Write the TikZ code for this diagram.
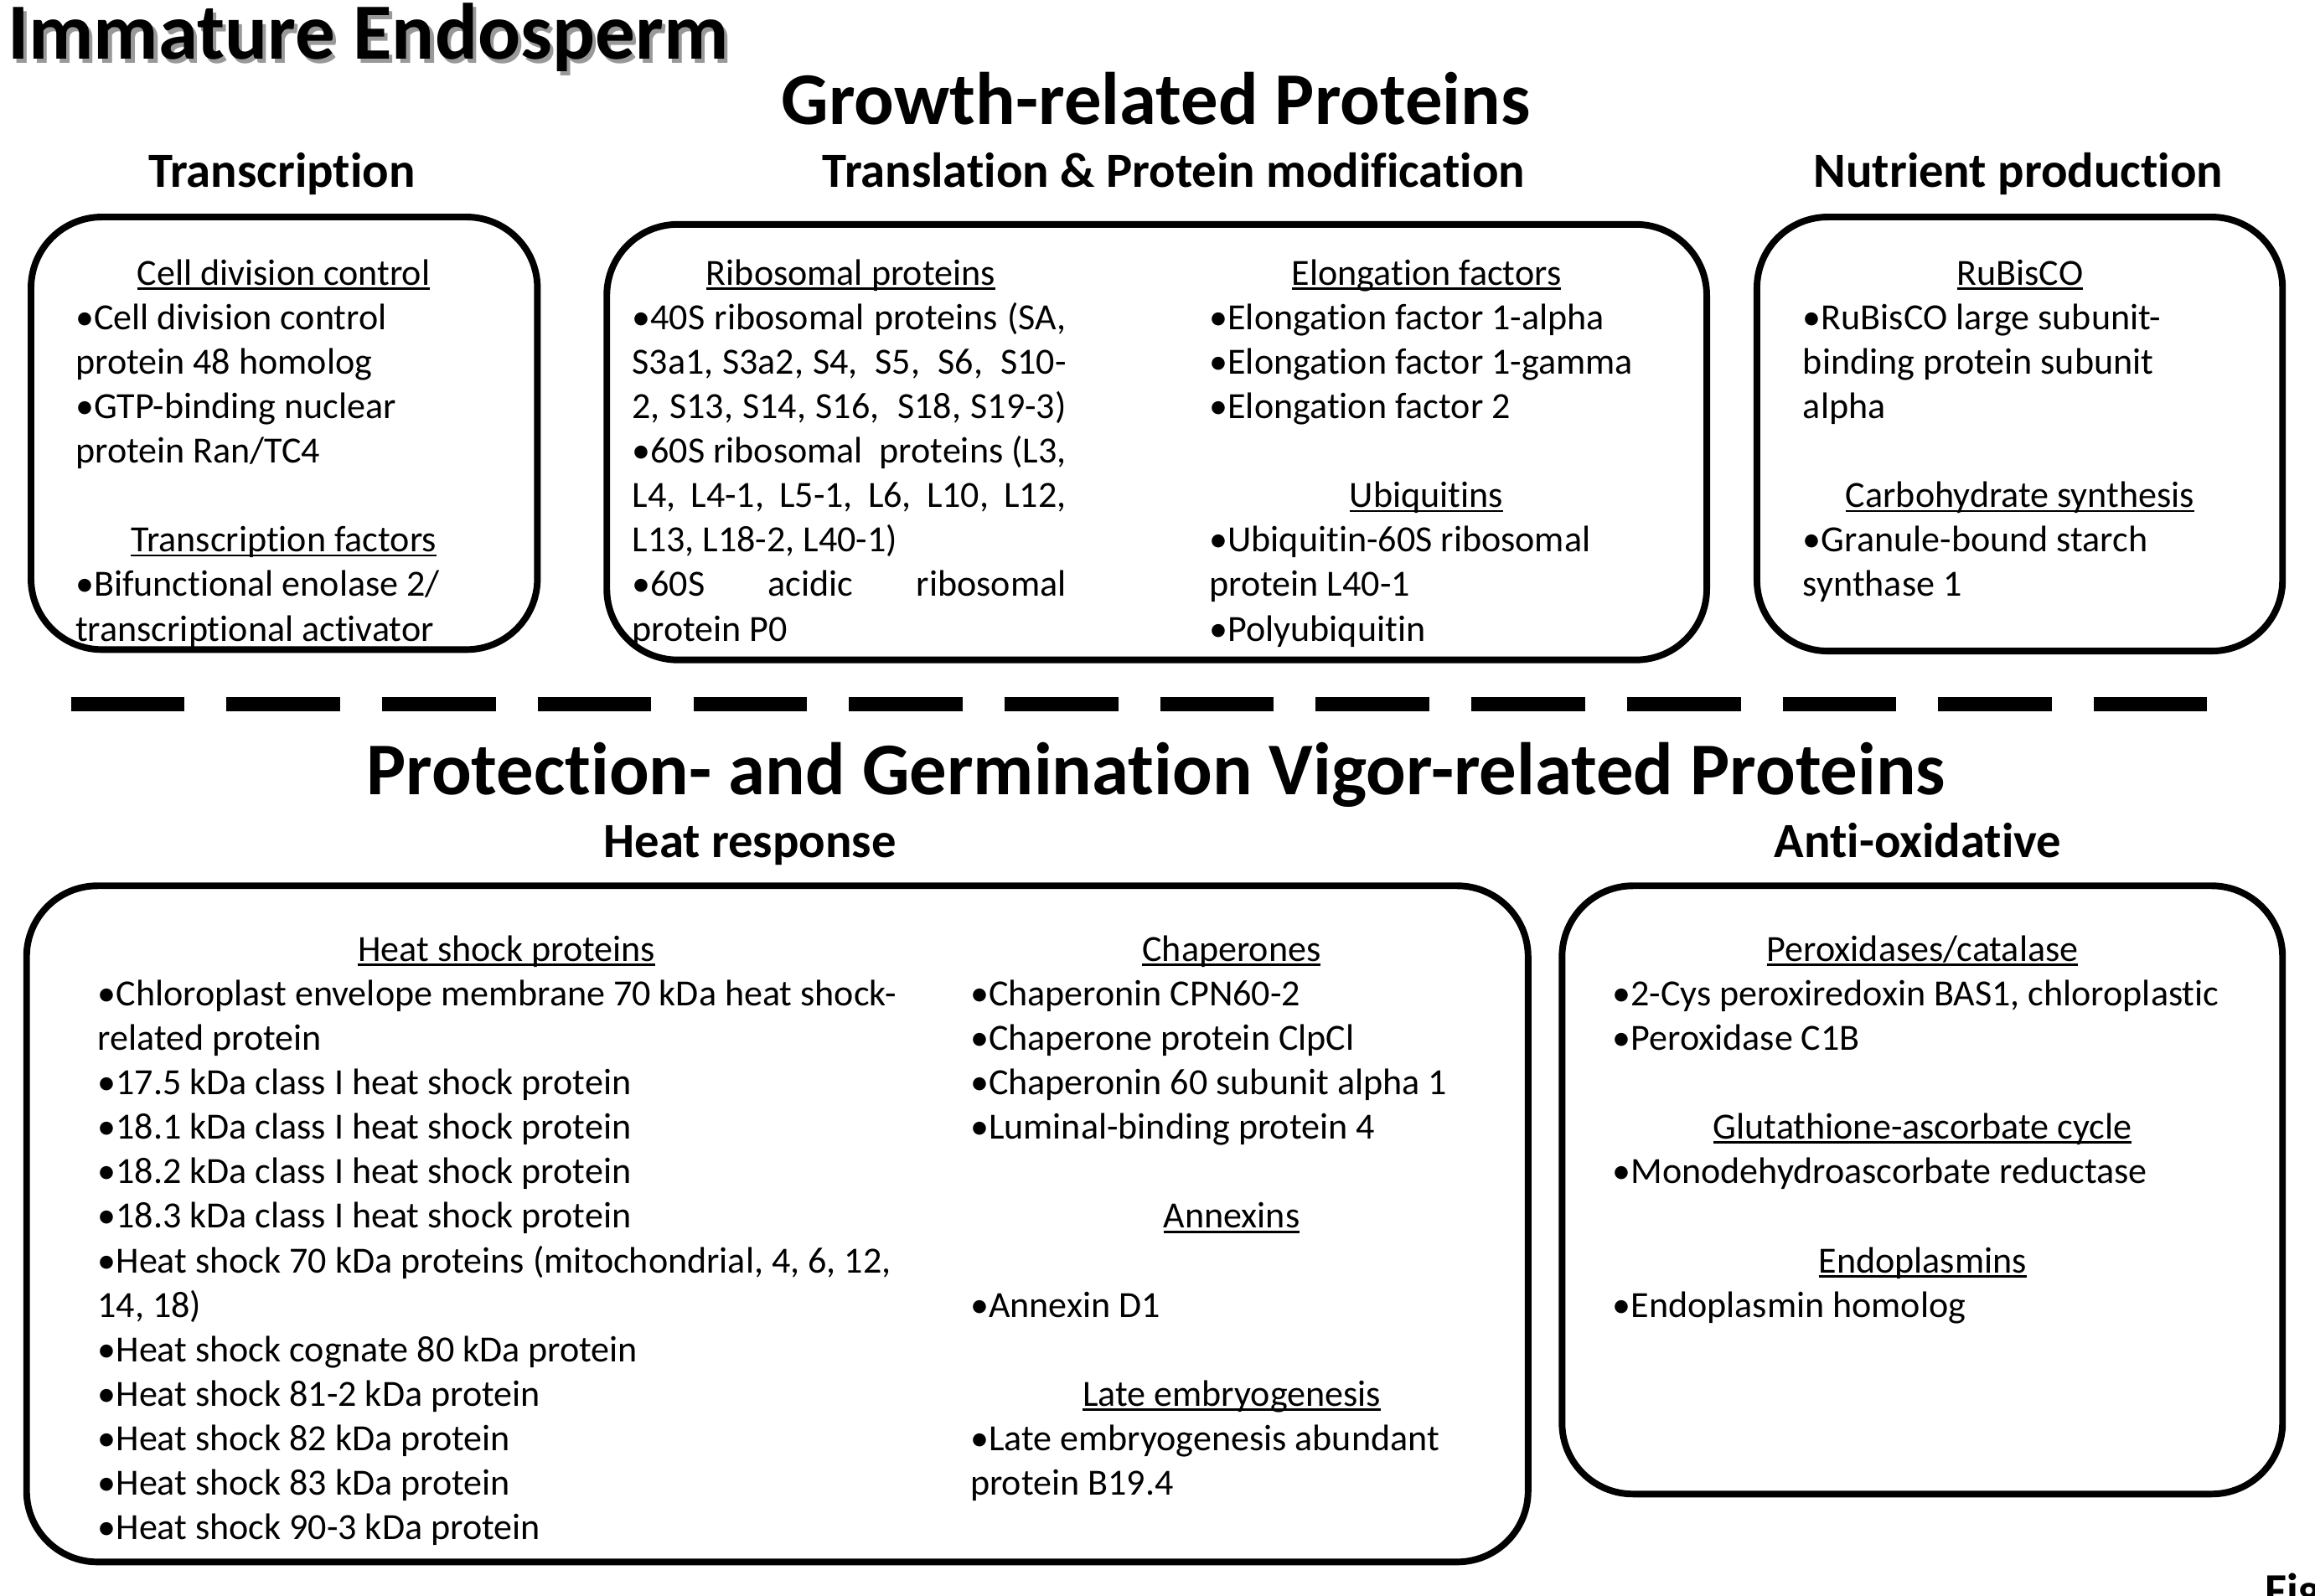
\documentclass[tikz,border=0pt]{standalone}
\usepackage{fontspec}
\setmainfont{Carlito}[Ligatures=NoCommon]
\newcommand\myul[1]{{\setbox0\hbox{#1}\rlap{\rule[-3.2pt]{\wd0}{1.6pt}}\box0}}
\newcommand\colw{100pt}
\newcommand\hdl[1]{\makebox[\colw]{\myul{#1}}}
\newcommand\col[2]{\def\colw{#1}\parbox[t]{\dimexpr#1+300pt\relax}{\raggedright\fontsize{25}{30.15}\selectfont #2}}
\newcommand\jl[1]{\makebox[294pt][s]{#1}}
\tikzset{
  x=1pt, y=-1pt,
  roundbox/.style={draw, line width=4.5pt, rounded corners=48pt},
  colnode/.style={inner sep=0pt, anchor=base west},
  bighd/.style={inner sep=0pt, anchor=base, font=\fontsize{50.4}{50.4}\selectfont\bfseries},
  subhd/.style={inner sep=0pt, anchor=base, font=\fontsize{33.3}{33.3}\selectfont\bfseries},
}
\begin{document}
\begin{tikzpicture}
\useasboundingbox (0,0) rectangle (1568,1081);
% title with shadow
\node[inner sep=0pt, anchor=base west, font=\fontsize{54}{54}\selectfont\bfseries, text=black!40] (titleshadow) at (7.5,43) {Immature Endosperm};
\node[inner sep=0pt, anchor=base west, font=\fontsize{54}{54}\selectfont\bfseries] (title) at (5,40) {Immature Endosperm};
\node[bighd] (growth) at (783,84) {Growth-related Proteins};
\node[subhd] (transc) at (191,127) {Transcription};
\node[subhd] (transl) at (795,127) {Translation \& Protein modification};
\node[subhd] (nutr) at (1367,127) {Nutrient production};
% boxes
\draw[roundbox] (21,147) rectangle (364,440);
\draw[roundbox] (411,152) rectangle (1156,447);
\draw[roundbox] (1190,147) rectangle (1546,441);
\draw[roundbox] (18,600) rectangle (1035,1058);
\draw[roundbox] (1058,600) rectangle (1546,1012);
% box 1
\node[colnode] (c1) at (51,193) {\col{282pt}{%
\hdl{Cell division control}\\
•Cell division control\\
protein 48 homolog\\
•GTP-binding nuclear\\
protein Ran/TC4\\
\mbox{}\\
\hdl{Transcription factors}\\
•Bifunctional enolase 2/\\
transcriptional activator}};
% box 2 left
\node[colnode] (c2) at (428,193) {\col{296pt}{%
\hdl{Ribosomal proteins}\\
\jl{•40S ribosomal proteins (SA,}\\
\jl{S3a1, S3a2, S4,\ \ S5,\ \ S6,\ \ S10-}\\
\jl{2, S13, S14, S16,\ \ S18, S19-3)}\\
\jl{•60S ribosomal\ \ proteins (L3,}\\
\jl{L4,\ \ L4-1,\ \ L5-1,\ \ L6,\ \ L10,\ \ L12,}\\
L13, L18-2, L40-1)\\
\jl{•60S acidic ribosomal}\\
protein P0}};
% box 2 right
\node[colnode] (c3) at (819,193) {\col{294pt}{%
\hdl{Elongation factors}\\
•Elongation factor 1-alpha\\
•Elongation factor 1-gamma\\
•Elongation factor 2\\
\mbox{}\\
\hdl{Ubiquitins}\\
•Ubiquitin-60S ribosomal\\
protein L40-1\\
•Polyubiquitin}};
% box 3
\node[colnode] (c4) at (1221,193) {\col{294pt}{%
\hdl{RuBisCO}\\
•RuBisCO large subunit-\\
binding protein subunit\\
alpha\\
\mbox{}\\
\hdl{Carbohydrate synthesis}\\
•Granule-bound starch\\
synthase 1}};
% dashed separator
\coordinate (dl) at (48,477);
\coordinate (dr) at (1495,477);
\draw[line width=10pt, dash pattern=on 77pt off 28.4pt] (dl) -- (dr);
\node[bighd] (prot) at (783,538) {Protection- and Germination Vigor-related Proteins};
\node[subhd] (heat) at (508,581) {Heat response};
\node[subhd] (anti) at (1299,581) {Anti-oxidative};
% box 4 left
\node[colnode] (c5) at (66,651) {\col{554pt}{%
\hdl{Heat shock proteins}\\
•Chloroplast envelope membrane 70 kDa heat shock-\\
related protein\\
•17.5 kDa class I heat shock protein\\
•18.1 kDa class I heat shock protein\\
•18.2 kDa class I heat shock protein\\
•18.3 kDa class I heat shock protein\\
•Heat shock 70 kDa proteins (mitochondrial, 4, 6, 12,\\
14, 18)\\
•Heat shock cognate 80 kDa protein\\
•Heat shock 81-2 kDa protein\\
•Heat shock 82 kDa protein\\
•Heat shock 83 kDa protein\\
•Heat shock 90-3 kDa protein}};
% box 4 right
\node[colnode] (c6) at (657,651) {\col{354pt}{%
\hdl{Chaperones}\\
•Chaperonin CPN60-2\\
•Chaperone protein ClpCl\\
•Chaperonin 60 subunit alpha 1\\
•Luminal-binding protein 4\\
\mbox{}\\
\hdl{Annexins}\\
\mbox{}\\
•Annexin D1\\
\mbox{}\\
\hdl{Late embryogenesis}\\
•Late embryogenesis abundant\\
protein B19.4}};
% box 5
\node[colnode] (c7) at (1092,651) {\col{420pt}{%
\hdl{Peroxidases/catalase}\\
•2-Cys peroxiredoxin BAS1, chloroplastic\\
•Peroxidase C1B\\
\mbox{}\\
\hdl{Glutathione-ascorbate cycle}\\
•Monodehydroascorbate reductase\\
\mbox{}\\
\hdl{Endoplasmins}\\
•Endoplasmin homolog}};
% figure label, cut off by the lower edge as in the reference
\node[inner sep=0pt, anchor=base west, font=\fontsize{32}{32}\selectfont\bfseries] (fig) at (1534,1088) {Fig};
\end{tikzpicture}
\end{document}
